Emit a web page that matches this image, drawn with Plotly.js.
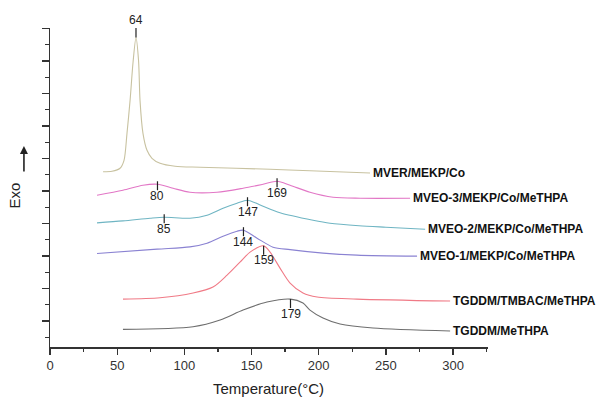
<!DOCTYPE html>
<html>
<head>
<meta charset="utf-8">
<script src="https://cdn.plot.ly/plotly-3.0.1.min.js"></script>
<style>html,body{margin:0;padding:0;background:#fff;}#chart{width:602px;height:399px;}</style>
</head>
<body>
<div id="chart"></div>
<script>
// Temperature (°C) and relative heat flow (arbitrary units, offset curves)
const tMVER = [39.5, 46.2, 52.1, 55.1, 57.3, 59.6, 61.8, 64, 65.9, 67, 69.2, 72.2, 75.9, 81.9, 93.1, 111.7, 163.8, 193.5, 238.2];
const hMVER = [175.5, 176, 179, 187, 214, 247, 285, 310, 287, 247, 214, 197, 189, 184, 181, 180, 178, 176.5, 174.3];

const tMVEO3 = [35.0, 54.3, 69.2, 80, 91.6, 104.2, 124.3, 143.7, 158.6, 169, 178.7, 193.5, 210.7, 230.8, 268];
const hMVEO3 = [152, 157, 162, 163, 159, 155, 155, 159, 163, 166, 162, 155, 150, 149, 149];

const tMVEO2 = [35, 54.3, 74.4, 85, 104.2, 116.9, 128.8, 139.2, 147, 156, 171.2, 195.8, 208.4, 230, 250, 279.2];
const hMVEO2 = [124.3, 126.3, 129, 130, 129, 132, 139, 144, 147, 142.5, 134.5, 127, 124, 121.5, 120, 118];

const tMVEO1 = [35, 79.7, 104.2, 116.9, 128.8, 139.2, 144, 154.1, 166, 178.7, 203.2, 228.5, 273.2];
const hMVEO1 = [93.7, 98, 100.3, 104, 111, 116, 117, 109, 100, 97.5, 94, 92, 91];

const tTMBAC = [54.3, 81.9, 106.5, 121.3, 131.8, 141.4, 148.9, 159, 163.8, 171.2, 178.7, 188.3, 198.8, 228.5, 297.8];
const hTMBAC = [48, 49.3, 54, 60, 72, 85, 95, 101.3, 95, 79, 64, 54, 50, 48, 46];

const tTGDDM = [54.3, 106.5, 126.6, 143.7, 161.5, 179, 188.3, 193.5, 203.2, 215.9, 240.4, 297.8];
const hTGDDM = [17.7, 20.3, 27, 37, 45, 48, 44, 37, 29, 23, 19, 16];

const seriesNames = ["MVER/MEKP/Co", "MVEO-3/MEKP/Co/MeTHPA", "MVEO-2/MEKP/Co/MeTHPA", "MVEO-1/MEKP/Co/MeTHPA", "TGDDM/TMBAC/MeTHPA", "TGDDM/MeTHPA"];
const seriesColors = ["#c8c2a0", "#e277c6", "#6fb5c3", "#8a82d2", "#f07a86", "#6e6e6e"];

// Peak temperatures: [series index, temperature]
const peakSeries = [0, 1, 1, 2, 2, 3, 4, 5];
const peakTemps = [64, 80, 169, 85, 147, 144, 159, 179];

const xs = [tMVER, tMVEO3, tMVEO2, tMVEO1, tTMBAC, tTGDDM];
const ys = [hMVER, hMVEO3, hMVEO2, hMVEO1, hTMBAC, hTGDDM];

const font = "Liberation Sans, Arial, Helvetica, sans-serif";

const traces = xs.map((x, i) => ({
  x: x, y: ys[i], type: "scatter", mode: "lines",
  line: {color: seriesColors[i], width: 1.1, shape: "spline", smoothing: 0.8},
  hoverinfo: "skip", showlegend: false
}));

function interp(x, y, v) {
  for (let k = 0; k < x.length - 1; k++) {
    if (v >= x[k] && v <= x[k + 1]) {
      return y[k] + (y[k + 1] - y[k]) * (v - x[k]) / (x[k + 1] - x[k]);
    }
  }
  return y[y.length - 1];
}

const shapes = [];
const annotations = [];

peakTemps.forEach((p, j) => {
  const s = peakSeries[j];
  const yc = interp(xs[s], ys[s], p);
  if (j === 0) {
    shapes.push({type: "line", xref: "x", yref: "y", x0: p, x1: p, y0: yc, y1: yc + 9.5, line: {color: "#222", width: 1.2}});
    annotations.push({x: p, y: yc, xref: "x", yref: "y", yshift: 17, text: String(p), showarrow: false, font: {family: font, size: 12, color: "#222"}, yanchor: "middle"});
  } else {
    const top = (s >= 4) ? yc : yc + 3;
    shapes.push({type: "line", xref: "x", yref: "y", x0: p, x1: p, y0: top, y1: top - 9, line: {color: "#222", width: 1.2}});
    annotations.push({x: p, y: top - 14.5, xref: "x", yref: "y", text: String(p), showarrow: false, font: {family: font, size: 12, color: "#222"}, yanchor: "middle"});
  }
});

seriesNames.forEach((n, i) => {
  const x = xs[i], y = ys[i];
  annotations.push({x: x[x.length - 1], y: y[y.length - 1], xref: "x", yref: "y", text: "<b>" + n + "</b>", showarrow: false,
    xanchor: "left", yanchor: "middle", xshift: 1, font: {family: font, size: 12, color: "#111"}});
});

// Exo label and arrow
annotations.push({xref: "paper", yref: "paper", x: -0.079, y: 0.4765, text: "Exo", textangle: -90, showarrow: false,
  xanchor: "center", yanchor: "middle", font: {family: font, size: 15, color: "#222"}});
annotations.push({xref: "paper", yref: "paper", x: -0.0595, y: 0.630, text: "", showarrow: true, arrowhead: 2, arrowsize: 1, arrowwidth: 1.6,
  arrowcolor: "#222", ax: 0, ay: 27});
// x axis title
annotations.push({xref: "paper", yref: "paper", x: 0.498, y: -0.13, text: "Temperature(°C)", showarrow: false,
  xanchor: "center", yanchor: "middle", font: {family: font, size: 15, color: "#222"}});

const layout = {
  width: 602, height: 399,
  margin: {l: 50, r: 114, t: 28, b: 52},
  paper_bgcolor: "#fff", plot_bgcolor: "#fff",
  showlegend: false,
  xaxis: {
    range: [0, 326], tick0: 0, dtick: 50, ticks: "outside", ticklen: 6, tickwidth: 1.3, tickcolor: "#333",
    minor: {dtick: 25, ticks: "outside", ticklen: 3, tickwidth: 1.3, tickcolor: "#333"},
    showline: true, linecolor: "#333", linewidth: 1.5, showgrid: false, zeroline: false,
    tickfont: {family: font, size: 13, color: "#333"}, fixedrange: true
  },
  yaxis: {
    range: [0, 319.5], tick0: 26, dtick: 32.56, ticks: "outside", ticklen: 7, tickwidth: 1.3, tickcolor: "#333",
    minor: {tick0: 9.72, dtick: 16.28, ticks: "outside", ticklen: 4, tickwidth: 1.3, tickcolor: "#333"},
    showline: true, linecolor: "#333", linewidth: 1.5, showgrid: false, zeroline: false,
    showticklabels: false, fixedrange: true
  },
  shapes: shapes,
  annotations: annotations
};

Plotly.newPlot("chart", traces, layout, {displayModeBar: false, staticPlot: true});
</script>
</body>
</html>
